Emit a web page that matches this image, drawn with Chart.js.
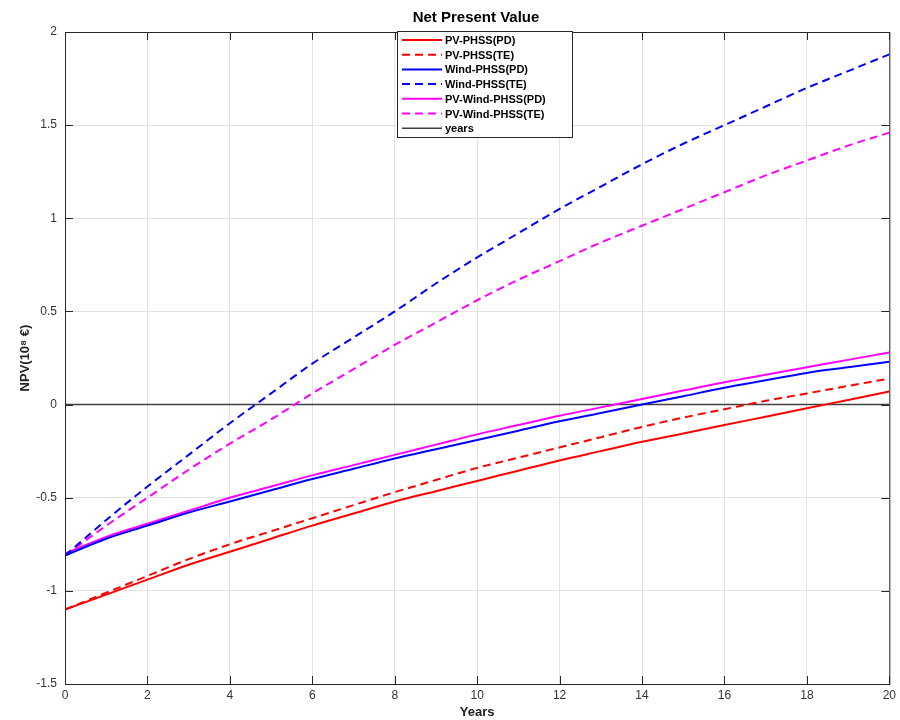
<!DOCTYPE html>
<html>
<head>
<meta charset="utf-8">
<script src="https://cdn.jsdelivr.net/npm/chart.js@4.4.1/dist/chart.umd.min.js"></script>
<style>
  html, body { margin: 0; padding: 0; background: #fff; }
  #wrap { width: 900px; height: 720px; }
</style>
</head>
<body>
<div id="wrap"><canvas id="npvChart" width="900" height="720"></canvas></div>
<script>
// Dados (NPV em 10^8 €)
const years = [0, 1, 2, 3, 4, 5, 6, 7, 8, 9, 10, 11, 12, 13, 14, 15, 16, 17, 18, 19, 20];
const pvPhssPD = [-1.10, -1.02, -0.94, -0.86, -0.79, -0.72, -0.65, -0.585, -0.52, -0.465, -0.41, -0.355, -0.30, -0.25, -0.20, -0.155, -0.11, -0.065, -0.02, 0.025, 0.07];
const pvPhssTE = [-1.10, -1.01, -0.92, -0.83, -0.75, -0.68, -0.61, -0.54, -0.47, -0.405, -0.34, -0.285, -0.23, -0.175, -0.12, -0.07, -0.025, 0.02, 0.06, 0.10, 0.14];
const windPhssPD = [-0.81, -0.72, -0.65, -0.58, -0.52, -0.46, -0.40, -0.345, -0.29, -0.24, -0.19, -0.14, -0.09, -0.045, 0.00, 0.045, 0.09, 0.13, 0.17, 0.20, 0.23];
const windPhssTE = [-0.81, -0.62, -0.44, -0.27, -0.10, 0.06, 0.22, 0.36, 0.50, 0.65, 0.79, 0.92, 1.05, 1.17, 1.29, 1.40, 1.50, 1.60, 1.70, 1.79, 1.88];
const pvWindPhssPD = [-0.80, -0.71, -0.64, -0.57, -0.50, -0.44, -0.38, -0.325, -0.27, -0.215, -0.16, -0.11, -0.06, -0.015, 0.03, 0.075, 0.12, 0.16, 0.20, 0.24, 0.28];
const pvWindPhssTE = [-0.81, -0.65, -0.50, -0.35, -0.21, -0.08, 0.06, 0.19, 0.32, 0.44, 0.56, 0.67, 0.77, 0.87, 0.96, 1.05, 1.14, 1.23, 1.31, 1.39, 1.46];
const yearsLine = [0, 0, 0, 0, 0, 0, 0, 0, 0, 0, 0, 0, 0, 0, 0, 0, 0, 0, 0, 0, 0];
const seriesNames = ['PV-PHSS(PD)', 'PV-PHSS(TE)', 'Wind-PHSS(PD)', 'Wind-PHSS(TE)', 'PV-Wind-PHSS(PD)', 'PV-Wind-PHSS(TE)', 'years'];

const toPoints = arr => arr.map((v, i) => ({ x: years[i], y: v }));
const DASH = [8, 5];

function makeSet(label, values, color, dashed, width) {
    return {
        label: label,
        data: toPoints(values),
        borderColor: color,
        backgroundColor: color,
        borderWidth: width || 2,
        borderDash: dashed ? DASH : [],
        pointRadius: 0,
        cubicInterpolationMode: 'monotone',
        fill: false
    };
}

// Título, moldura e legenda no estilo MATLAB
const matlabStyle = {
    id: 'matlabStyle',
    afterDraw(chart) {
        const { ctx, chartArea: a } = chart;
        ctx.save();
        // moldura
        ctx.strokeStyle = '#262626';
        ctx.lineWidth = 1;
        ctx.strokeRect(a.left + 0.5, a.top + 0.5, a.right - a.left, a.bottom - a.top);
        // pequenos ticks internos
        const xs = chart.scales.x, ys = chart.scales.y;
        ctx.beginPath();
        xs.ticks.forEach(t => {
            const px = Math.round(xs.getPixelForValue(t.value)) + 0.5;
            ctx.moveTo(px, a.bottom); ctx.lineTo(px, a.bottom - 8);
            ctx.moveTo(px, a.top); ctx.lineTo(px, a.top + 8);
        });
        ys.ticks.forEach(t => {
            const py = Math.round(ys.getPixelForValue(t.value)) + 0.5;
            ctx.moveTo(a.left, py); ctx.lineTo(a.left + 8, py);
            ctx.moveTo(a.right, py); ctx.lineTo(a.right - 8, py);
        });
        ctx.stroke();

        // título
        ctx.fillStyle = '#000';
        ctx.font = 'bold 15px "Liberation Sans", Arial, sans-serif';
        ctx.textAlign = 'center';
        ctx.textBaseline = 'middle';
        ctx.fillText('Net Present Value', 476, 18);

        // legenda
        const lx = 397, ly = 31, lw = 175, lh = 106;
        ctx.fillStyle = '#fff';
        ctx.fillRect(lx, ly, lw, lh);
        ctx.strokeStyle = '#262626';
        ctx.strokeRect(lx + 0.5, ly + 0.5, lw, lh);
        ctx.font = 'bold 11px "Liberation Sans", Arial, sans-serif';
        ctx.textAlign = 'left';
        chart.data.datasets.forEach((ds, i) => {
            const y = ly + 9 + i * 14.7;
            ctx.strokeStyle = ds.borderColor;
            ctx.lineWidth = ds.borderWidth;
            ctx.setLineDash(ds.borderDash);
            ctx.beginPath();
            ctx.moveTo(lx + 5, y); ctx.lineTo(lx + 45, y);
            ctx.stroke();
            ctx.setLineDash([]);
            ctx.fillStyle = '#000';
            ctx.fillText(ds.label, lx + 48, y + 1);
        });
        ctx.restore();
    }
};

const tickFont = { family: '"Liberation Sans Narrow", "Liberation Sans", Arial, sans-serif', size: 12 };

const ctx = document.getElementById('npvChart').getContext('2d');
new Chart(ctx, {
    type: 'line',
    data: {
        datasets: [
            makeSet(seriesNames[0], pvPhssPD, '#ff0000', false),
            makeSet(seriesNames[1], pvPhssTE, '#ff0000', true),
            makeSet(seriesNames[2], windPhssPD, '#0000ff', false),
            makeSet(seriesNames[3], windPhssTE, '#0000ff', true),
            makeSet(seriesNames[4], pvWindPhssPD, '#ff00ff', false),
            makeSet(seriesNames[5], pvWindPhssTE, '#ff00ff', true),
            makeSet(seriesNames[6], yearsLine, '#404040', false, 1.5)
        ]
    },
    options: {
        responsive: false,
        animation: false,
        layout: { padding: { top: 32, right: 9, left: 0, bottom: 0 } },
        plugins: {
            legend: { display: false },
            tooltip: { enabled: false }
        },
        scales: {
            x: {
                type: 'linear',
                min: 0,
                max: 20,
                ticks: {
                    stepSize: 2,
                    color: '#333',
                    padding: 4,
                    font: tickFont
                },
                grid: { color: '#e3e3e3', drawTicks: false },
                border: { display: false },
                title: {
                    display: true,
                    text: 'Years',
                    color: '#222',
                    padding: { top: 4, bottom: 0 },
                    font: { family: '"Liberation Sans", Arial, sans-serif', size: 13, weight: 'bold' }
                },
                afterFit(scale) { scale.height = 36; }
            },
            y: {
                min: -1.5,
                max: 2,
                ticks: {
                    stepSize: 0.5,
                    color: '#333',
                    padding: 8,
                    font: tickFont,
                    callback: v => String(Math.round(v * 10) / 10)
                },
                grid: { color: '#e3e3e3', drawTicks: false },
                border: { display: false },
                title: {
                    display: true,
                    text: 'NPV(10⁸ €)',
                    color: '#222',
                    padding: { top: 18, bottom: 0 },
                    font: { family: '"Liberation Sans", Arial, sans-serif', size: 13, weight: 'bold' }
                },
                afterFit(scale) { scale.width = 65; }
            }
        }
    },
    plugins: [matlabStyle]
});
</script>
</body>
</html>
